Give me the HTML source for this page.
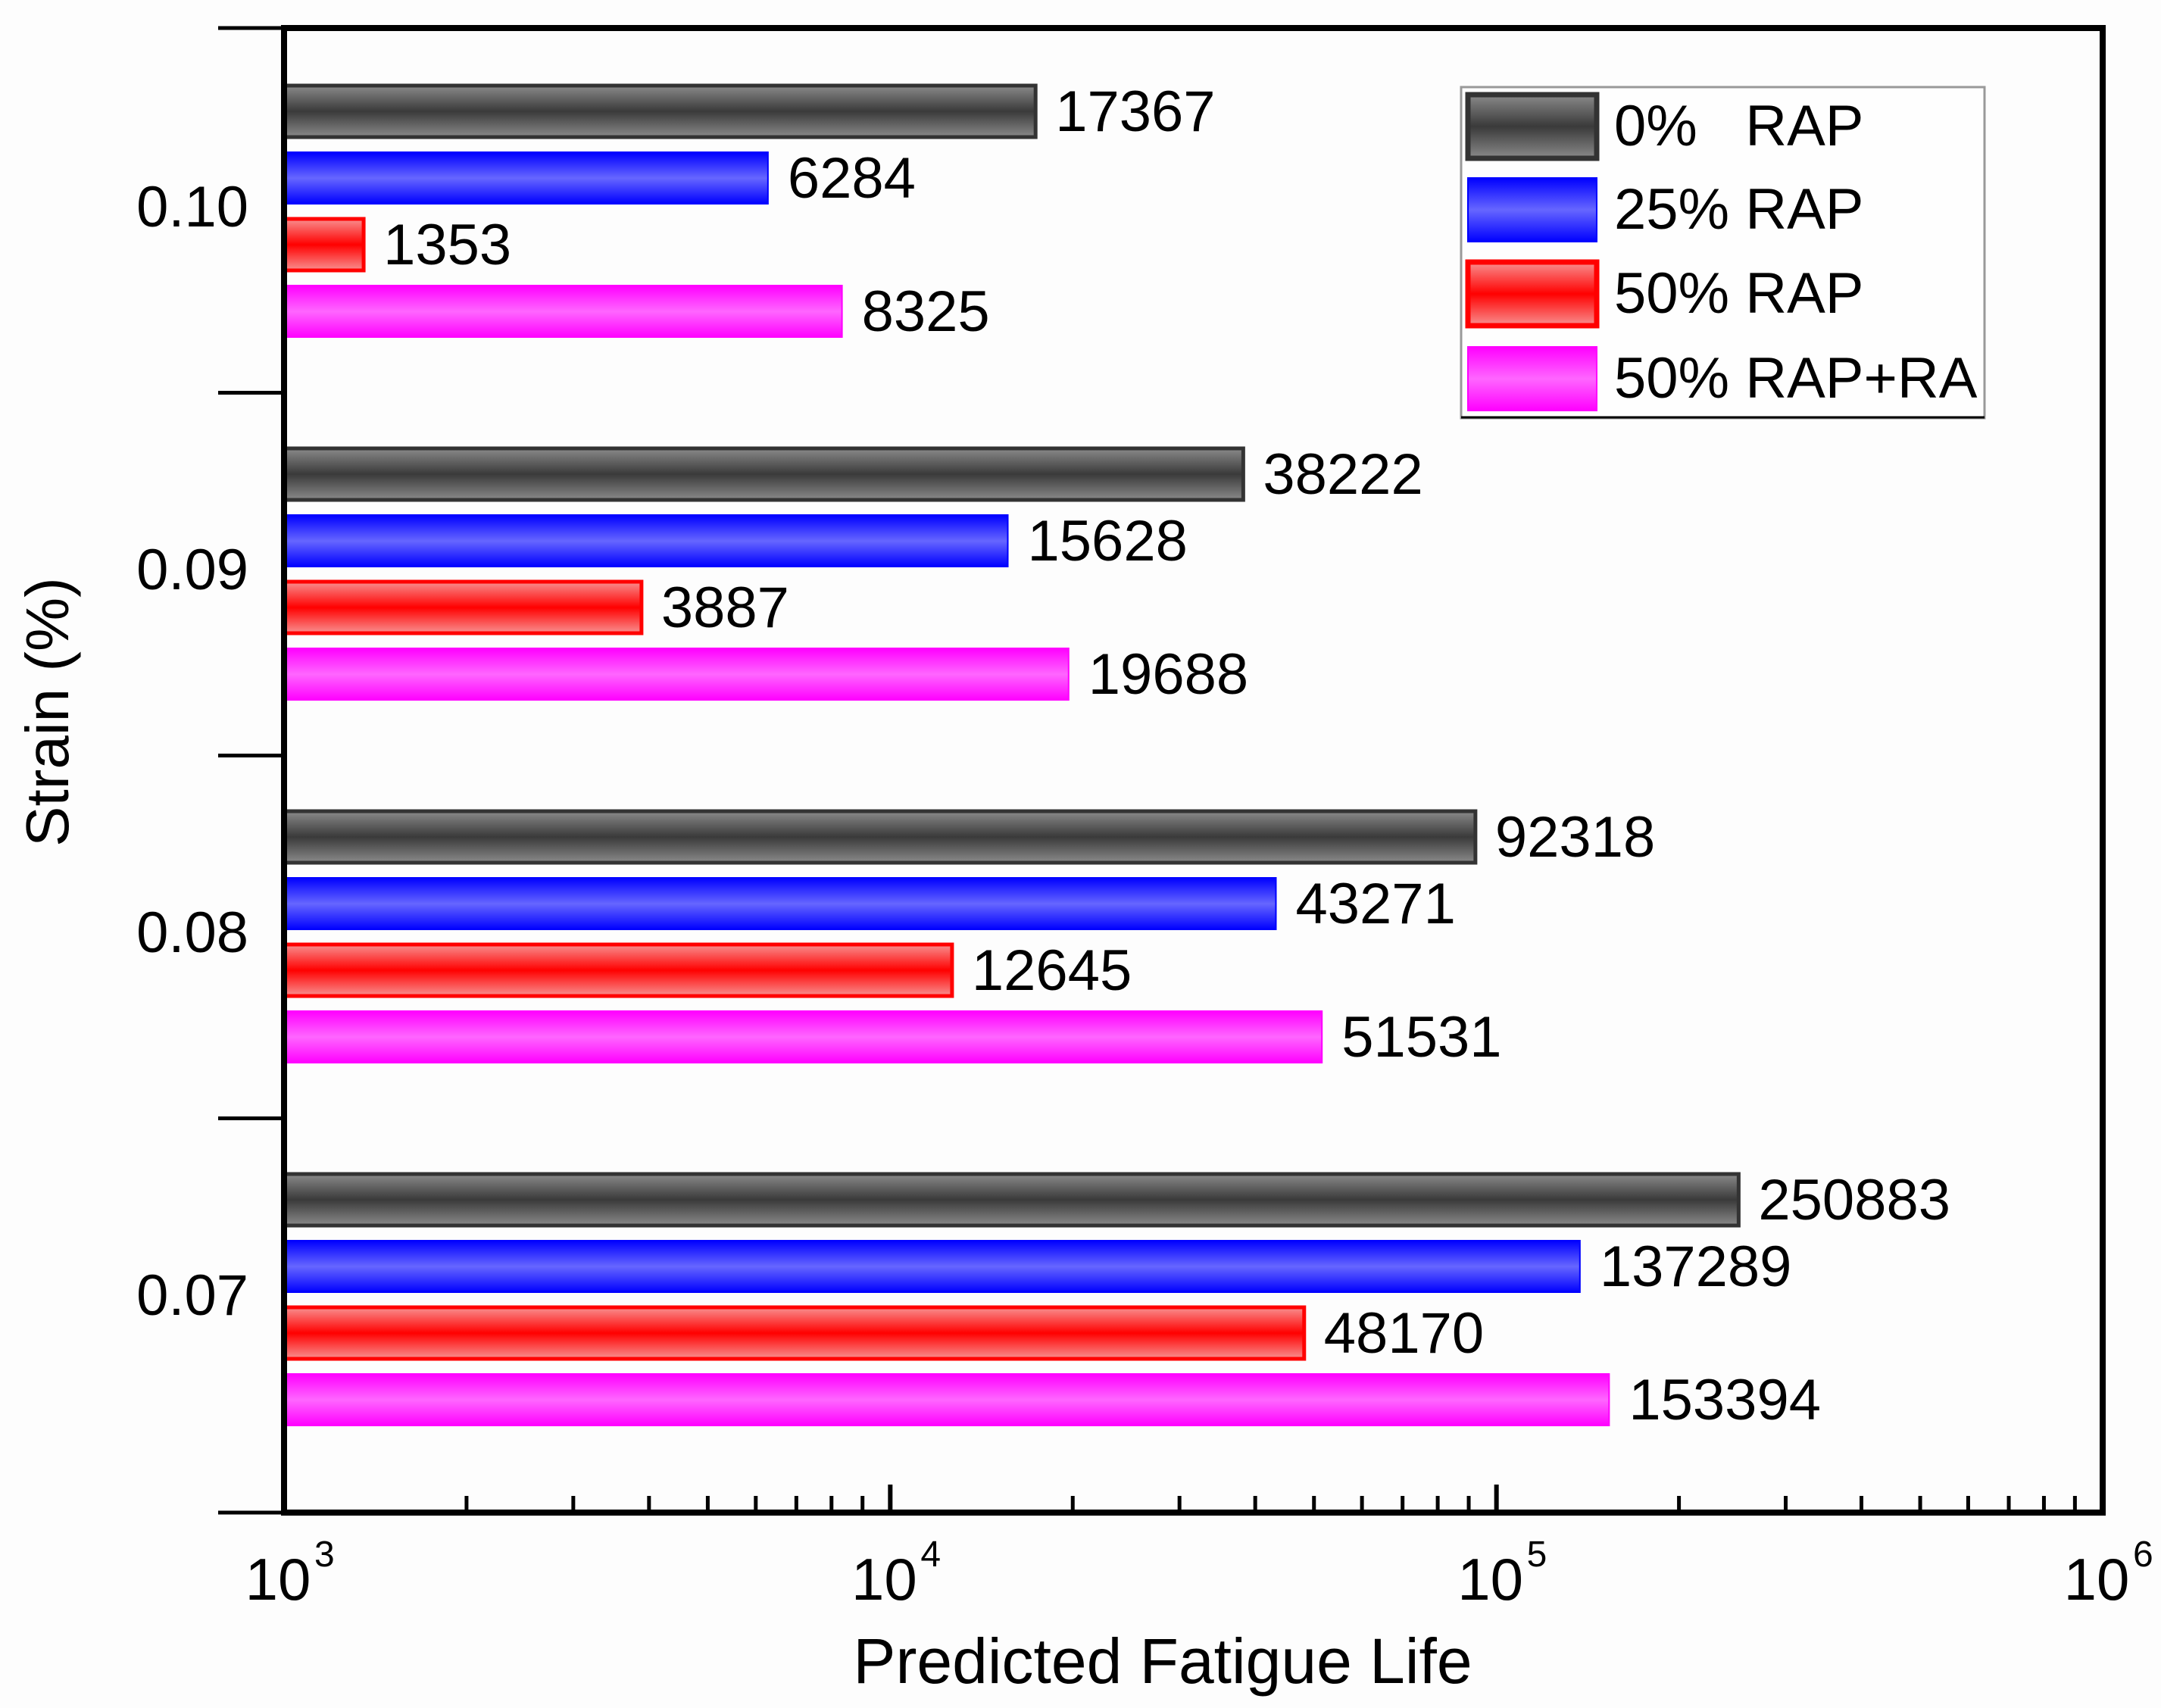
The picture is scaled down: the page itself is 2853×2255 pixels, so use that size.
<!DOCTYPE html>
<html><head><meta charset="utf-8"><style>
html,body{margin:0;padding:0;background:#fdfdfd;}
svg{display:block;}
text{font-family:"Liberation Sans",sans-serif;fill:#000;}
</style></head><body>
<svg id="chart" width="2853" height="2255" viewBox="0 0 2853 2255" xmlns="http://www.w3.org/2000/svg">
<defs>
<linearGradient id="g-gray" x1="0" y1="0" x2="0" y2="1"><stop offset="0" stop-color="#8a8a8a"/><stop offset="0.5" stop-color="#3a3a3a"/><stop offset="1" stop-color="#8a8a8a"/></linearGradient>
<linearGradient id="g-blue" x1="0" y1="0" x2="0" y2="1"><stop offset="0" stop-color="#0000ff"/><stop offset="0.5" stop-color="#6666ff"/><stop offset="1" stop-color="#0000ff"/></linearGradient>
<linearGradient id="g-red" x1="0" y1="0" x2="0" y2="1"><stop offset="0" stop-color="#f89090"/><stop offset="0.5" stop-color="#ff0000"/><stop offset="1" stop-color="#f89090"/></linearGradient>
<linearGradient id="g-pink" x1="0" y1="0" x2="0" y2="1"><stop offset="0" stop-color="#ff00ff"/><stop offset="0.5" stop-color="#ff66ff"/><stop offset="1" stop-color="#ff00ff"/></linearGradient>
</defs>
<g id="bars"></g>
<g id="axes"></g>
<g id="legend"></g>
<text x="1535" y="2222" font-size="84" text-anchor="middle">Predicted Fatigue Life</text>
<text x="0" y="0" font-size="80" text-anchor="middle" transform="translate(90,940) rotate(-90)">Strain (%)</text>
</svg>
<script>
const categories = ["0.10","0.09","0.08","0.07"];
const seriesNames = ["0%   RAP","25% RAP","50% RAP","50% RAP+RA"];
const s0 = [17367, 38222, 92318, 250883];
const s1 = [6284, 15628, 43271, 137289];
const s2 = [1353, 3887, 12645, 48170];
const s3 = [8325, 19688, 51531, 153394];
const xTickExps = [3,4,5,6];

const series = [s0,s1,s2,s3];
const fills = ["url(#g-gray)","url(#g-blue)","url(#g-red)","url(#g-pink)"];
const strokes = ["#333","#0000ff","#ff0000","#ff00ff"];
const NS = "http://www.w3.org/2000/svg";
const L=375, R=2776, T=37, B=1997;
const xScale = v => L + (Math.log10(v)-3)/3*(R-L);
const STEP=479, PITCH=88, BH=68;
const groupTop = i => 113 + i*STEP;
const barY = (i,j) => groupTop(i) + j*PITCH;
function mk(tag, attrs, parent){const e=document.createElementNS(NS,tag);for(const k in attrs)e.setAttribute(k,attrs[k]);parent.appendChild(e);return e;}
const bars=document.getElementById('bars'), axes=document.getElementById('axes'), legend=document.getElementById('legend');

categories.forEach((c,i)=>{
  series.forEach((s,j)=>{
    const x1=xScale(s[i]), y=barY(i,j);
    const r=mk('rect',{x:L,y:y,width:x1-L,height:BH,fill:fills[j],stroke:strokes[j],'stroke-width':(j==1||j==3)?2:5},bars);
    
    
    const t=mk('text',{x:x1+26,y:y+BH/2+26,'font-size':76},bars);
    t.textContent=s[i];
    
    
  });
  const cy = groupTop(i)+ 1.5*PITCH + BH/2;
  const ct=mk('text',{x:328,y:cy+20,'font-size':76,'text-anchor':'end'},axes);
  ct.textContent=c;
  
  
});
for(let k=0;k<=categories.length;k++){
  const y = k==0?T:(k==categories.length?B:groupTop(k)-(STEP-3*PITCH-BH)/2);
  const ln=mk('line',{x1:288,x2:L,y1:y,y2:y,stroke:'#000','stroke-width':5},axes);
  
  
}
const fr=mk('rect',{x:L,y:T,width:R-L,height:B-T,fill:'none',stroke:'#000','stroke-width':8},axes);


xTickExps.forEach((e,idx)=>{
  const x=xScale(Math.pow(10,e));
  if(idx>0&&idx<xTickExps.length-1){const m=mk('line',{x1:x,x2:x,y1:B,y2:B-37,stroke:'#000','stroke-width':6},axes);
    
    }
  const t=mk('text',{x:x-8,y:2112,'font-size':78,'text-anchor':'middle'},axes);
  t.textContent='10';
  
  
  const sp=mk('text',{x:x+40,y:2068,'font-size':48},axes);
  sp.textContent=e;
  
  
  if(idx<xTickExps.length-1){
    for(let m=2;m<=9;m++){
      const xm=xScale(m*Math.pow(10,e));
      const ml=mk('line',{x1:xm,x2:xm,y1:B,y2:B-22,stroke:'#000','stroke-width':5},axes);
      
      
    }
  }
});
const lb=mk('rect',{x:1929,y:115,width:691,height:437,fill:'#fefefe',stroke:'#999','stroke-width':3},legend);


mk('line',{x1:1929,x2:2620,y1:551,y2:551,stroke:'#000','stroke-width':3},legend);
const rowY=[122,232,343,455];
seriesNames.forEach((n,j)=>{
  const sw=mk('rect',{x:1938,y:rowY[j]+3,width:170,height:84,fill:fills[j],stroke:strokes[j],'stroke-width':(j==1||j==3)?2:7},legend);
  
  
  const t=mk('text',{x:2131,y:rowY[j]+70,'font-size':76},legend);
  t.style.whiteSpace='pre';
  t.textContent=n;
  
  
});
</script>
</body></html>
